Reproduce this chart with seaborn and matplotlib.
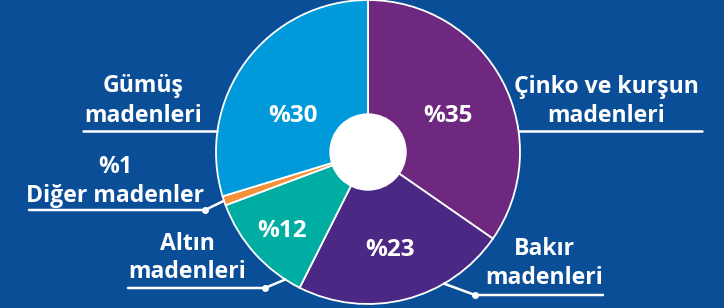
import matplotlib

matplotlib.use("Agg")
import matplotlib.pyplot as plt
import numpy as np
import pandas as pd
import seaborn as sns

sns.set_theme(style="white")
plt.rcParams["font.family"] = ["Open Sans", "DejaVu Sans"]

# data
sectors = ["Çinko ve kurşun madenleri", "Bakır madenleri", "Altın madenleri",
           "Diğer madenler", "Gümüş madenleri"]
shares = [35, 23, 12, 1, 30]
colors = ["#6e2880", "#4b2883", "#00ada3", "#f5913a", "#009ada"]

df = pd.DataFrame({"sector": sectors, "share": shares, "color": colors})

BG = "#0a4e98"
W, H = 724, 308
CX, CY, R = 368, 152, 152  # pie centre / radius in pixels (y from top)


def py(y):
    return H - y


def edge_point(angle_deg):
    a = np.deg2rad(angle_deg)
    return CX + R * np.cos(a), CY - R * np.sin(a)


def edge_x(y, side):
    return CX + side * np.sqrt(R ** 2 - (y - CY) ** 2)


fig = plt.figure(figsize=(W / 100, H / 100), dpi=100)
fig.patch.set_facecolor(BG)
ax = fig.add_axes([0, 0, 1, 1])
ax.set_facecolor(BG)

wedges, _ = ax.pie(df["share"], colors=df["color"], startangle=90, counterclock=False,
                   center=(CX, py(CY)), radius=R,
                   wedgeprops=dict(edgecolor="white", linewidth=1.3))
ax.add_patch(plt.Circle((CX, py(CY)), 38, color="white", zorder=5))
ax.set_xlim(0, W)
ax.set_ylim(0, H)
ax.set_aspect("equal")
ax.axis("off")

# percent labels inside
pct_pos = {0: (448, 122), 1: (390, 256), 2: (282, 237), 4: (293, 122)}
for i, (x, y) in pct_pos.items():
    ax.text(x, py(y), f"%{df['share'][i]}", color="white", fontsize=17.5,
            fontweight="bold", ha="center", va="baseline", zorder=6)

txt = dict(color="white", fontsize=16.6, fontweight="bold", ha="center", va="baseline")
lw = 1.8

# Gümüş
ax.text(143, py(92), "Gümüş", **txt)
ax.text(143, py(122), "madenleri", **txt)
ax.plot([83, edge_x(131, -1)], [py(131), py(131)], color="white", lw=lw)

# Çinko ve kurşun
ax.text(606, py(93), "Çinko ve kurşun", **txt)
ax.text(606, py(122), "madenleri", **txt)
ax.plot([edge_x(131, 1), 702], [py(131), py(131)], color="white", lw=lw)

# Diğer
ax.text(115, py(173), "%1", **txt)
ax.text(115, py(202), "Diğer madenler", **txt)
w = wedges[3]
ex, ey = edge_point((w.theta1 + w.theta2) / 2)
ax.plot([29, 205, ex], [py(210), py(210), py(ey)], color="white", lw=lw)
ax.plot(205, py(210), "o", color="white", ms=4)

# Altın
ax.text(187, py(250), "Altın", **txt)
ax.text(187, py(278), "madenleri", **txt)
ex, ey = edge_point(-123)
ax.plot([128, 265, ex], [py(288), py(288), py(ey)], color="white", lw=lw)
ax.plot(265, py(288), "o", color="white", ms=4)

# Bakır
ax.text(544, py(255), "Bakır", **txt)
ax.text(544, py(284), "madenleri", **txt)
ex, ey = edge_point(-60)
ax.plot([603, 475, ex], [py(295), py(295), py(ey)], color="white", lw=lw)
ax.plot(475, py(295), "o", color="white", ms=4)

fig.savefig("out.png", dpi=100, facecolor=BG)
